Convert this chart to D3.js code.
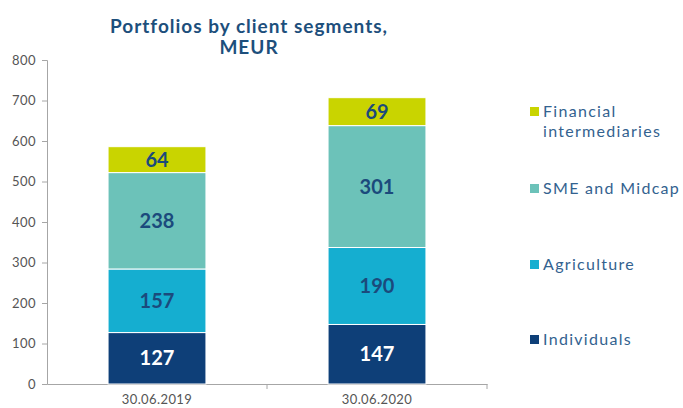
<!DOCTYPE html>
<html>
<head>
<meta charset="utf-8">
<script src="https://cdn.jsdelivr.net/npm/d3@7"></script>
<style>
  body { margin: 0; background: #fff; }
  text { font-family: Lato, "Open Sans", sans-serif; }
</style>
</head>
<body>
<script>
var categories = ["30.06.2019", "30.06.2020"];
var segments = ["Individuals", "Agriculture", "SME and Midcap", "Financial intermediaries"];
var individuals = [127, 147];
var agriculture = [157, 190];
var smeMidcap = [238, 301];
var financial = [64, 69];
var yTicks = [0, 100, 200, 300, 400, 500, 600, 700, 800];

var colors = ["#0e3f78", "#15aed0", "#6cc2b9", "#c9d400"];
var labelColors = ["#ffffff", "#1b4a7c", "#1b4a7c", "#1b4a7c"];

var width = 683, height = 408;
var svg = d3.select("body").append("svg")
    .attr("width", width)
    .attr("height", height);

var x = d3.scaleBand()
    .domain(categories)
    .range([47, 487])
    .paddingInner(0.555)
    .paddingOuter(0.2775);

var y = d3.scaleLinear()
    .domain([0, 800])
    .range([384, 60]);

var rows = categories.map(function(c, i) {
    return {
        cat: c,
        "Individuals": individuals[i],
        "Agriculture": agriculture[i],
        "SME and Midcap": smeMidcap[i],
        "Financial intermediaries": financial[i]
    };
});
var stacked = d3.stack().keys(segments)(rows);

// y axis
var yAxis = svg.append("g")
    .attr("transform", "translate(47,0)")
    .call(d3.axisLeft(y).tickValues(yTicks).tickSize(5).tickPadding(6));
yAxis.select(".domain").attr("stroke", "#a6a6a6");
yAxis.selectAll(".tick line").attr("stroke", "#a6a6a6");
yAxis.selectAll("text").attr("fill", "#555")
    .style("font-size", "13px").style("letter-spacing", "0.5px");

// x axis
var xAxis = svg.append("g")
    .attr("transform", "translate(0,384)")
    .call(d3.axisBottom(x).tickSize(0).tickPadding(11));
xAxis.select(".domain").attr("stroke", "#a6a6a6");
xAxis.selectAll("text").attr("fill", "#555")
    .style("font-size", "13px").style("letter-spacing", "0.4px");
svg.append("g").selectAll("line")
    .data([x.step() + 47, 487])
    .enter().append("line")
    .attr("x1", function(d) { return d; })
    .attr("x2", function(d) { return d; })
    .attr("y1", 384).attr("y2", 389)
    .attr("stroke", "#a6a6a6");

// bars
var layers = svg.selectAll(".layer")
    .data(stacked)
    .enter().append("g")
    .attr("class", "layer")
    .attr("fill", function(d, i) { return colors[i]; });

layers.selectAll("rect")
    .data(function(d) { return d; })
    .enter().append("rect")
    .attr("x", function(d) { return x(d.data.cat); })
    .attr("y", function(d) { return y(d[1]); })
    .attr("width", x.bandwidth())
    .attr("height", function(d) { return y(d[0]) - y(d[1]); })
    .attr("stroke", "#fff")
    .attr("stroke-width", 1);

layers.selectAll(".val")
    .data(function(d, i) { return d.map(function(p) { return { p: p, i: i }; }); })
    .enter().append("text")
    .attr("class", "val")
    .attr("x", function(d) { return x(d.p.data.cat) + x.bandwidth() / 2; })
    .attr("y", function(d) { return (y(d.p[0]) + y(d.p[1])) / 2; })
    .attr("dy", "0.36em")
    .attr("text-anchor", "middle")
    .attr("fill", function(d) { return labelColors[d.i]; })
    .style("font-size", "20px")
    .style("font-weight", "bold")
    .text(function(d) { return d.p[1] - d.p[0]; });

// title
var title = svg.append("text")
    .attr("text-anchor", "middle")
    .attr("fill", "#1d4f7c")
    .style("font-size", "19px")
    .style("font-weight", "bold")
    .style("letter-spacing", "1px");
title.append("tspan").attr("x", 249).attr("y", 33).text("Portfolios by client segments,");
title.append("tspan").attr("x", 249).attr("y", 54).text("MEUR");

// legend
var legendItems = [
    { name: ["Financial", "intermediaries"], color: colors[3], y: 111 },
    { name: ["SME and Midcap"], color: colors[2], y: 188 },
    { name: ["Agriculture"], color: colors[1], y: 264 },
    { name: ["Individuals"], color: colors[0], y: 339 }
];
var legend = svg.selectAll(".legend")
    .data(legendItems)
    .enter().append("g")
    .attr("class", "legend");
legend.append("rect")
    .attr("x", 530)
    .attr("y", function(d) { return d.y - 4; })
    .attr("width", 9)
    .attr("height", 9)
    .attr("fill", function(d) { return d.color; });
legend.append("text")
    .attr("fill", "#33628f")
    .style("font-size", "16px")
    .style("letter-spacing", "1.3px")
    .each(function(d) {
        var t = d3.select(this);
        d.name.forEach(function(s, k) {
            t.append("tspan")
                .attr("x", 543)
                .attr("y", d.y + 6 + k * 20)
                .text(s);
        });
    });
</script>
</body>
</html>
